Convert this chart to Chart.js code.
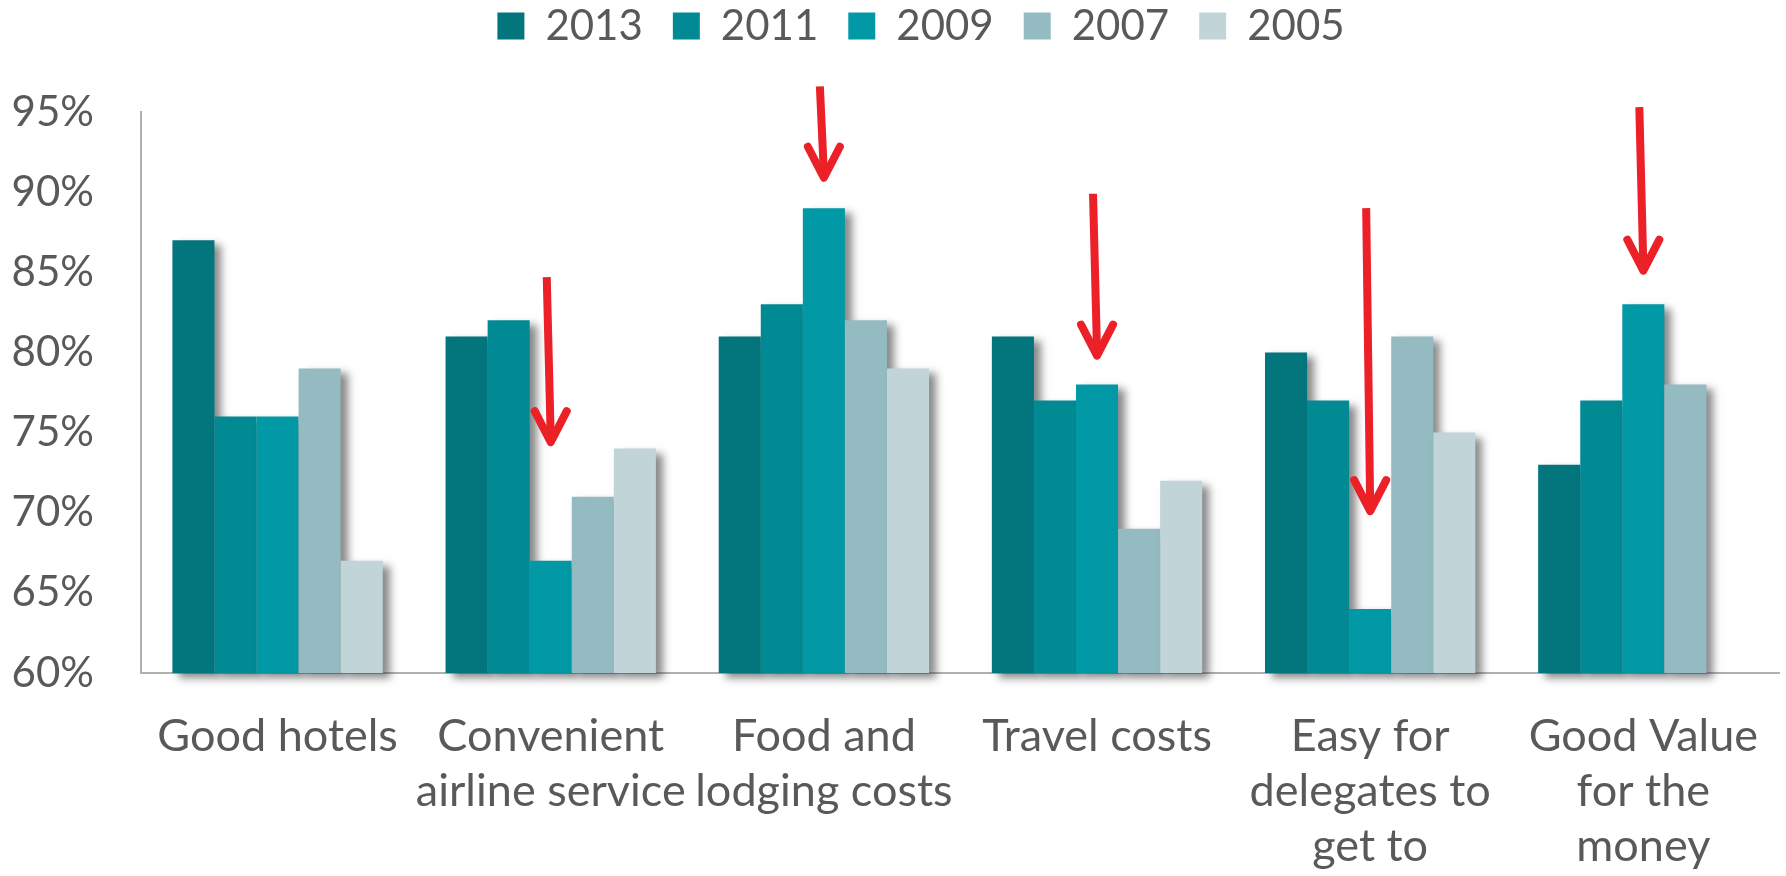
<!DOCTYPE html>
<html>
<head>
<meta charset="utf-8">
<script src="https://cdn.jsdelivr.net/npm/chart.js@4.4.1/dist/chart.umd.min.js"></script>
<style>
  html, body { margin: 0; padding: 0; background: #fff; }
  #wrap { width: 1786px; height: 876px; }
</style>
</head>
<body>
<div id="wrap"><canvas id="chart"></canvas></div>
<script>
const categories = [
    "Good hotels",
    ["Convenient", "airline service"],
    ["Food and", "lodging costs"],
    "Travel costs",
    ["Easy for", "delegates to", "get to"],
    ["Good Value", "for the", "money"]
];

const years = ["2013", "2011", "2009", "2007", "2005"];
const colors = ["#02757d", "#018a94", "#0299a7", "#95bbc2", "#c1d4d8"];

const values2013 = [87, 81, 81, 81, 80, 73];
const values2011 = [76, 82, 83, 77, 77, 77];
const values2009 = [76, 67, 89, 78, 64, 83];
const values2007 = [79, 71, 82, 69, 81, 78];
const values2005 = [67, 74, 79, 72, 75, null];

const yTicks = [60, 65, 70, 75, 80, 85, 90, 95];

// red arrows over the 2009 bars (start / end as percent values)
const arrowCats = [1, 2, 3, 4, 5];
const arrowFrom = [84.7, 96.6, 89.9, 89.0, 95.3];
const arrowTo = [74.4, 90.9, 79.8, 70.1, 85.1];

const series = [values2013, values2011, values2009, values2007, values2005];

const textColor = "#595959";

/* legend size / position tweaks */
const legendFix = {
    id: "legendFix",
    beforeInit(chart) {
        const legend = chart.legend;
        const fit = legend.fit;
        legend.fit = function () {
            fit.call(this);
            this.height = 112;
        };
    },
    afterLayout(chart) {
        const lg = chart.legend;
        lg.left += 28;
        lg.right += 28;
        lg.top -= 25;
        lg.bottom -= 25;
    }
};

/* bars with shadow, drawn left to right, then arrows */
const barShadow = {
    id: "barShadow",
    beforeDatasetsDraw(chart) {
        const ctx = chart.ctx;
        const metas = chart.getSortedVisibleDatasetMetas();

        ctx.save();
        ctx.shadowColor = "rgba(40,40,40,0.55)";
        ctx.shadowBlur = 8;
        ctx.shadowOffsetX = 7;
        ctx.shadowOffsetY = 5;
        metas.forEach(m => m.controller.draw());
        ctx.restore();

        const y = chart.scales.y;
        const meta2009 = chart.getDatasetMeta(2);

        ctx.save();
        ctx.strokeStyle = "#ec2027";
        ctx.lineJoin = "round";
        arrowCats.forEach((c, i) => {
            const x = meta2009.data[c].x;
            const y0 = y.getPixelForValue(arrowFrom[i]);
            const y1 = y.getPixelForValue(arrowTo[i]);

            ctx.lineWidth = 8;
            ctx.lineCap = "butt";
            ctx.beginPath();
            ctx.moveTo(x - 4, y0);
            ctx.lineTo(x, y1 - 4);
            ctx.stroke();

            ctx.lineCap = "round";
            ctx.beginPath();
            ctx.moveTo(x - 16, y1 - 31);
            ctx.lineTo(x, y1);
            ctx.lineTo(x + 16, y1 - 31);
            ctx.stroke();
        });
        ctx.restore();

        return false;
    }
};

new Chart(document.getElementById("chart"), {
    type: "bar",
    data: {
        labels: categories,
        datasets: years.map((yr, i) => ({
            label: yr,
            data: series[i],
            base: 60,
            backgroundColor: colors[i],
            borderWidth: 0,
            categoryPercentage: 0.77,
            barPercentage: 1.0
        }))
    },
    options: {
        responsive: true,
        maintainAspectRatio: false,
        animation: false,
        plugins: {
            legend: {
                position: "top",
                labels: {
                    boxWidth: 27,
                    boxHeight: 27,
                    padding: 30,
                    color: textColor,
                    font: { family: "Lato", size: 42 }
                }
            },
            tooltip: { enabled: false }
        },
        scales: {
            x: {
                grid: { display: false },
                border: { display: true, color: "#b0b0b0", width: 2 },
                afterFit(axis) {
                    axis.height = 203;
                },
                ticks: {
                    color: textColor,
                    font: { family: "Lato", size: 45, lineHeight: 1.22 },
                    padding: 28,
                    maxRotation: 0,
                    minRotation: 0,
                    autoSkip: false
                }
            },
            y: {
                min: 60,
                max: 95,
                grid: { display: false },
                border: { display: true, color: "#b0b0b0", width: 2 },
                afterBuildTicks(axis) {
                    axis.ticks = yTicks.map(v => ({ value: v }));
                },
                afterFit(axis) {
                    axis.width = 141;
                },
                ticks: {
                    color: textColor,
                    font: { family: "Lato", size: 42 },
                    padding: 39,
                    callback: v => v + "%"
                }
            }
        }
    },
    plugins: [legendFix, barShadow]
});
</script>
</body>
</html>
